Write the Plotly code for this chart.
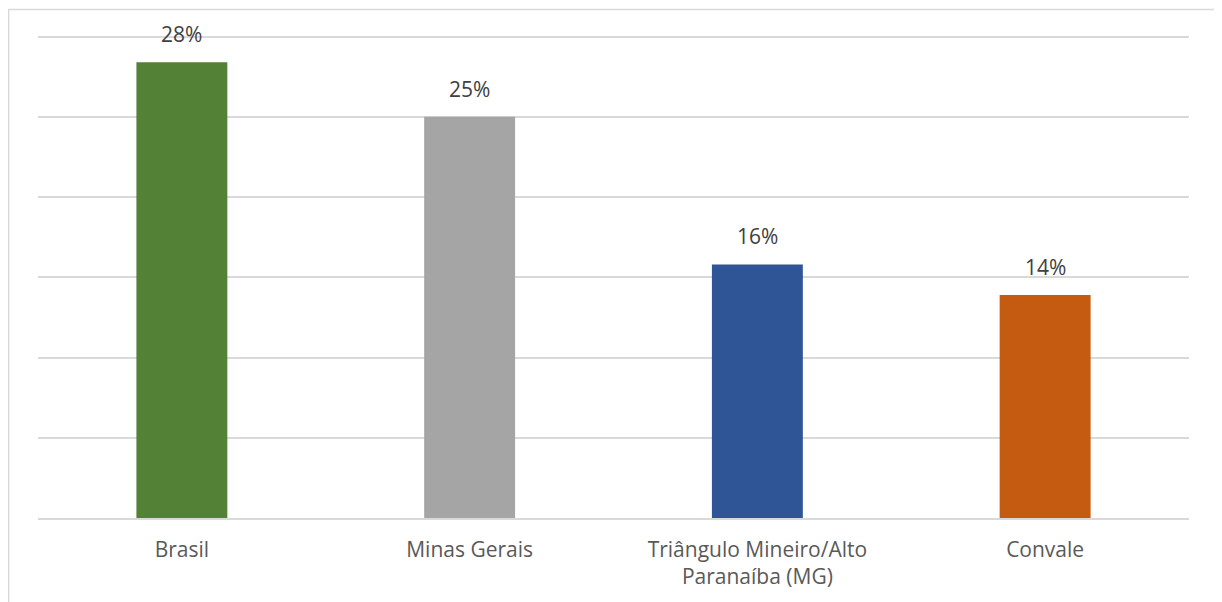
import plotly.graph_objects as go

categories = ["Brasil", "Minas Gerais", "Triângulo Mineiro/Alto<br>Paranaíba (MG)", "Convale"]
values = [0.284, 0.250, 0.158, 0.139]
labels = ["28%", "25%", "16%", "14%"]
colors = ["#538135", "#A5A5A5", "#2F5597", "#C55A11"]

FONT = "Open Sans, Lato, sans-serif"

fig = go.Figure()
fig.add_trace(go.Bar(
    x=categories, y=values, marker=dict(color=colors, line=dict(width=0)),
    width=0.316, hoverinfo="skip", showlegend=False,
))
for c, v, t in zip(categories, values, labels):
    fig.add_annotation(x=c, y=v, text=t, showarrow=False, yanchor="bottom",
                       yshift=12, font=dict(family=FONT, size=21, color="#404040"))

# outer chart border
fig.add_shape(type="rect", xref="paper", yref="paper",
              x0=-0.0255, x1=1.0243, y0=-0.19, y1=1.053,
              line=dict(color="#D9D9D9", width=1.5), fillcolor="rgba(0,0,0,0)", layer="below")

fig.update_layout(
    width=1214, height=594,
    margin=dict(l=30, r=33, t=27, b=84),
    paper_bgcolor="white", plot_bgcolor="white",
    font=dict(family=FONT, size=21, color="#595959"),
    xaxis=dict(showline=True, linecolor="#D9D9D9", linewidth=1.5, ticks="outside",
               ticklen=12, tickcolor="rgba(0,0,0,0)", showgrid=False,
               tickfont=dict(size=21, color="#595959")),
    yaxis=dict(range=[0, 0.301], dtick=0.05, showticklabels=False, showgrid=True,
               gridcolor="#D9D9D9", gridwidth=1.5, zeroline=False, showline=False),
)
fig.write_html("out.html")
